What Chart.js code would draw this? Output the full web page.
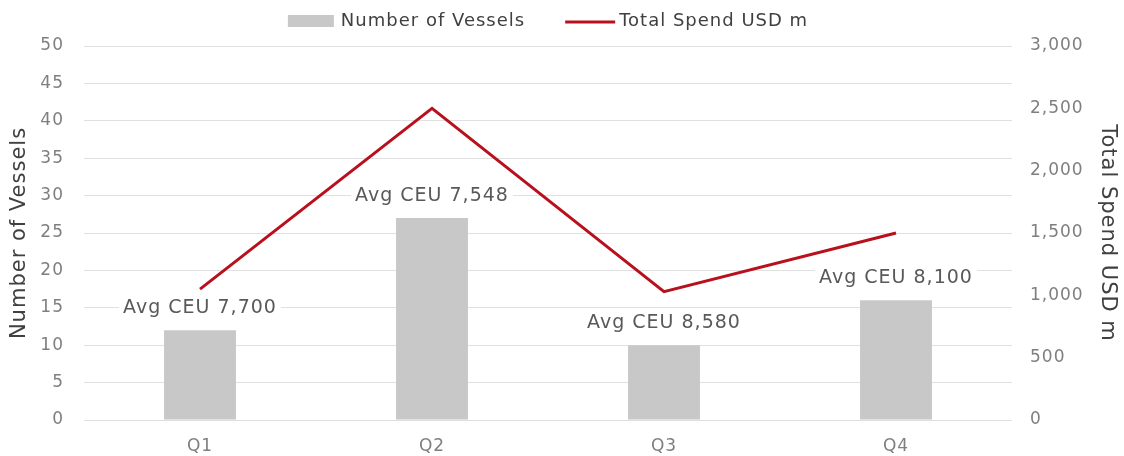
<!DOCTYPE html>
<html>
<head>
<meta charset="utf-8">
<script src="https://cdn.jsdelivr.net/npm/chart.js@4"></script>
<style>
  html, body { margin: 0; padding: 0; background: #fff; }
  #wrap { width: 1124px; height: 456px; }
</style>
</head>
<body>
<div id="wrap"><canvas id="graph"></canvas></div>
<script>
let quarters = ["Q1", "Q2", "Q3", "Q4"];
let vessels = [12, 27, 10, 16];
let spend = [1050, 2500, 1030, 1500];
let avgCeu = ["Avg CEU 7,700", "Avg CEU 7,548", "Avg CEU 8,580", "Avg CEU 8,100"];

const FONT = "'DejaVu Sans', sans-serif";
const BAR_COLOR = "#c8c8c8";
const LINE_COLOR = "#b8101c";

// a bit of tracking on every piece of text
const spacing = {
  id: "spacing",
  beforeDraw(chart) {
    chart.ctx.letterSpacing = "1px";
  },
};

// text above each bar, on a white patch so grid and line pass behind it
const barLabels = {
  id: "barLabels",
  afterDatasetsDraw(chart) {
    const ctx = chart.ctx;
    const meta = chart.getDatasetMeta(1);
    ctx.save();
    ctx.font = "19px " + FONT;
    ctx.textAlign = "center";
    ctx.textBaseline = "middle";
    meta.data.forEach((bar, i) => {
      const y = bar.y - 22;
      const w = ctx.measureText(avgCeu[i]).width;
      ctx.fillStyle = "#fff";
      ctx.fillRect(bar.x - w / 2 - 4, y - 12, w + 8, 24);
      ctx.fillStyle = "#595959";
      ctx.fillText(avgCeu[i], bar.x, y);
    });
    ctx.restore();
  },
};

// legend row: grey swatch for the bars, short red stroke for the line
const topLegend = {
  id: "topLegend",
  afterDraw(chart) {
    const ctx = chart.ctx;
    const names = [chart.data.datasets[1].label, chart.data.datasets[0].label];
    ctx.save();
    ctx.font = "18px " + FONT;
    ctx.textBaseline = "middle";
    const w0 = ctx.measureText(names[0]).width;
    const w1 = ctx.measureText(names[1]).width;
    const total = 46 + 7 + w0 + 40 + 50 + 4 + w1;
    let x = (chart.chartArea.left + chart.chartArea.right) / 2 - total / 2;
    const y = 21;
    ctx.fillStyle = BAR_COLOR;
    ctx.fillRect(x, y - 6, 46, 12);
    x += 46 + 7;
    ctx.fillStyle = "#404040";
    ctx.fillText(names[0], x, y);
    x += w0 + 40;
    ctx.strokeStyle = LINE_COLOR;
    ctx.lineWidth = 3;
    ctx.beginPath();
    ctx.moveTo(x, y + 1);
    ctx.lineTo(x + 50, y + 1);
    ctx.stroke();
    x += 50 + 4;
    ctx.fillText(names[1], x, y);
    ctx.restore();
  },
};

Chart.defaults.font.family = FONT;
Chart.defaults.color = "#7f7f7f";

new Chart(document.getElementById("graph").getContext("2d"), {
  data: {
    labels: quarters,
    datasets: [
      {
        type: "line",
        label: "Total Spend USD m",
        data: spend,
        yAxisID: "y1",
        borderColor: LINE_COLOR,
        backgroundColor: LINE_COLOR,
        borderWidth: 3,
        pointRadius: 0,
        tension: 0,
        order: 0,
      },
      {
        type: "bar",
        label: "Number of Vessels",
        data: vessels,
        yAxisID: "y",
        backgroundColor: BAR_COLOR,
        borderWidth: 0,
        categoryPercentage: 1,
        barPercentage: 0.31,
        order: 1,
      },
    ],
  },
  options: {
    responsive: true,
    maintainAspectRatio: false,
    animation: false,
    layout: { padding: { top: 46, bottom: 0, left: 0, right: 0 } },
    plugins: {
      legend: { display: false },
      tooltip: { enabled: false },
    },
    scales: {
      x: {
        grid: { display: false },
        border: { display: false },
        ticks: { padding: 8, font: { size: 17 } },
        afterFit: (s) => { s.height = 36; },
      },
      y: {
        position: "left",
        min: 0,
        max: 50,
        ticks: { stepSize: 5, padding: 20, font: { size: 17 } },
        grid: { color: "#e0e0e0", drawTicks: false },
        border: { display: false },
        title: {
          display: true,
          text: "Number of Vessels",
          color: "#404040",
          font: { size: 21 },
          padding: { top: 7, bottom: 0 },
        },
        afterFit: (s) => { s.width = 84; },
      },
      y1: {
        position: "right",
        min: 0,
        max: 3000,
        ticks: { stepSize: 500, padding: 18, font: { size: 17 } },
        grid: { display: false, drawTicks: false },
        border: { display: false },
        title: {
          display: true,
          text: "Total Spend USD m",
          color: "#404040",
          font: { size: 21 },
          padding: { top: 4, bottom: 0 },
        },
        afterFit: (s) => { s.width = 112; },
      },
    },
  },
  plugins: [spacing, barLabels, topLegend],
});
</script>
</body>
</html>
